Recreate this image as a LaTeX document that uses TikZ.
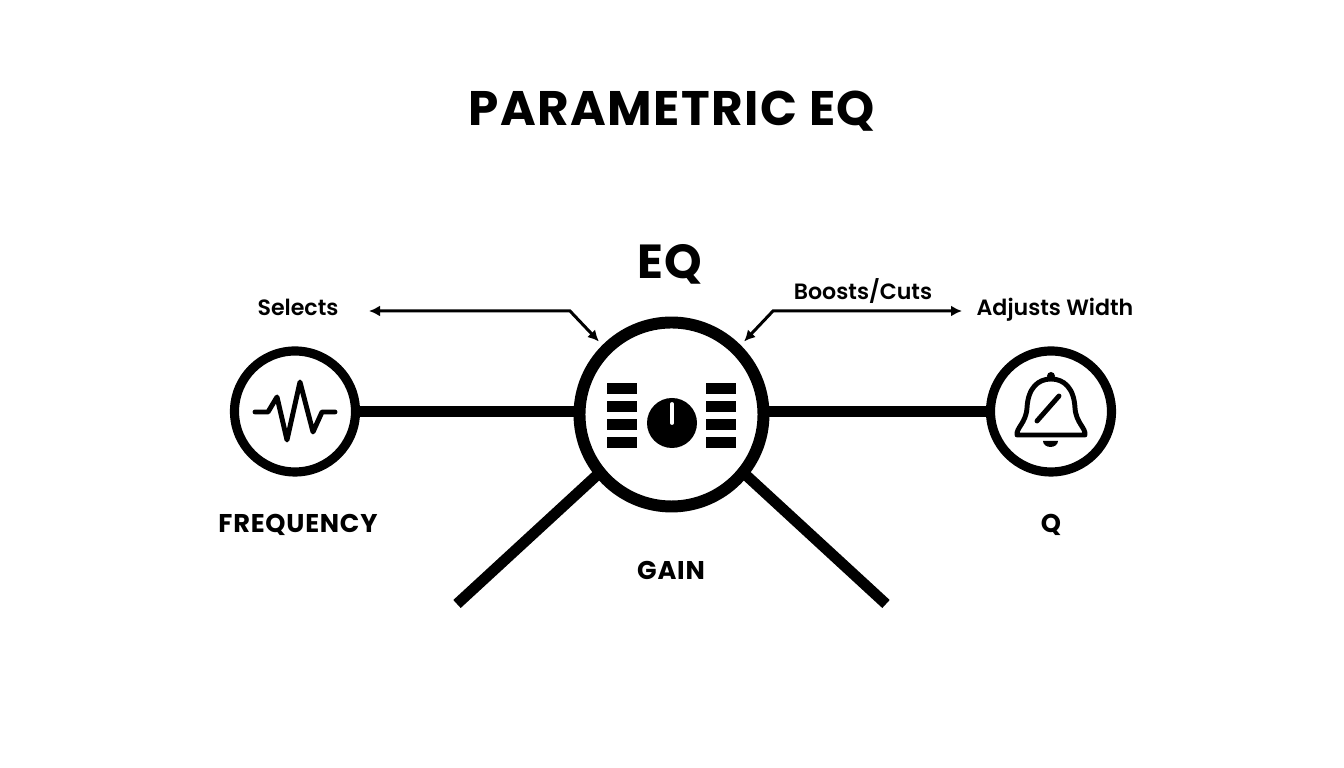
\documentclass[tikz,border=0pt]{standalone}
\usepackage{fontspec}
\setmainfont{Poppins}[BoldFont={Poppins SemiBold}]
\newfontfamily\heavyfont{Poppins Bold}[LetterSpace=3]
\usetikzlibrary{arrows.meta, positioning}

\tikzset{
    ring/.style={draw=black, fill=white, circle, inner sep=0pt, outer sep=0pt},
    spoke/.style={draw=black, line width=3.1pt},
    callout/.style={draw=black, line width=0.85pt, {Latex[length=1.1mm,width=1.1mm]}-{Latex[length=1.1mm,width=1.1mm]}},
    icon/.style={draw=black, line width=1.4pt, line cap=round, line join=round},
    small/.style={font=\fontsize{6.3}{8}\selectfont\bfseries},
    big/.style={font=\fontsize{7.3}{9}\selectfont\heavyfont}
}

\begin{document}
\begin{tikzpicture}
    \useasboundingbox (0,0) rectangle (13.44,7.68);

    \node[font=\fontsize{13.8}{16}\selectfont\heavyfont] (title) at (6.72, 6.57) {PARAMETRIC EQ};
    \node[font=\fontsize{13.6}{16}\selectfont\heavyfont] (eqlabel) at (6.70, 5.04) {EQ};

    % Dials
    \node[ring, line width=3.4pt, minimum size=1.84cm] (main) at (6.715, 3.535) {};
    \node[ring, line width=2.6pt, minimum size=1.21cm] (freq) at (2.95, 3.565) {};
    \node[ring, line width=2.6pt, minimum size=1.21cm] (width) at (10.51, 3.565) {};

    % Spokes
    \coordinate (gainleft) at (4.57, 1.64);
    \coordinate (gainright) at (8.86, 1.64);
    \draw[spoke] (freq.east) -- (main.west |- freq.east);
    \draw[spoke] (width.west) -- (main.east |- width.west);
    \draw[spoke] (main.219.5) -- (gainleft);
    \draw[spoke] (main.321) -- (gainright);

    % Labels
    \node[big] (freqlabel) at (2.98, 2.43) {FREQUENCY};
    \node[big] (gainlabel) at (6.71, 1.98) {GAIN};
    \node[big] (qlabel) at (10.51, 2.43) {Q};
    \node[small] (selects) at (2.98, 4.61) {Selects};
    \node[small] (boosts) at (8.63, 4.77) {Boosts/Cuts};
    \node[small] (adjusts) at (10.55, 4.58) {Adjusts Width};

    % Callouts
    \coordinate (selectsend) at (3.69, 4.57);
    \coordinate (selectsbend) at (5.70, 4.57);
    \coordinate (boostsend) at (9.62, 4.57);
    \coordinate (boostsbend) at (7.73, 4.57);
    \draw[callout, shorten >=0.11cm] (selectsend) -- (selectsbend) -- (main.135);
    \draw[callout, shorten >=0.11cm] (boostsend) -- (boostsbend) -- (main.45);

    % Faders
    \foreach \y in {3.74, 3.56, 3.38, 3.20} {
        \fill[black] (6.07, \y) rectangle (6.37, \y+0.11);
        \fill[black] (7.06, \y) rectangle (7.36, \y+0.11);
    }

    % Knob
    \fill[black] (6.72, 3.45) circle (0.25);
    \draw[white, line width=1.1pt, line cap=round] (6.72, 3.45) -- (6.72, 3.64);

    % Wave
    \draw[icon] (2.55, 3.56) -- (2.68, 3.56) -- (2.77, 3.71) -- (2.87, 3.28) -- (3.00, 3.86)
        -- (3.13, 3.36) -- (3.22, 3.56) -- (3.35, 3.56);

    % Bell
    \draw[icon] (10.17, 3.33) -- (10.85, 3.33) .. controls (10.86, 3.40) and (10.76, 3.45) .. (10.75, 3.60)
        .. controls (10.74, 3.80) and (10.64, 3.89) .. (10.51, 3.89)
        .. controls (10.38, 3.89) and (10.28, 3.80) .. (10.27, 3.60)
        .. controls (10.26, 3.45) and (10.16, 3.40) .. (10.17, 3.33) -- cycle;
    \fill[black] (10.51, 3.92) circle (0.04);
    \draw[icon] (10.37, 3.47) -- (10.59, 3.72);
    \fill[black] (10.43, 3.27) -- (10.58, 3.27) arc (0:-180:0.075 and 0.06) -- cycle;
\end{tikzpicture}
\end{document}
